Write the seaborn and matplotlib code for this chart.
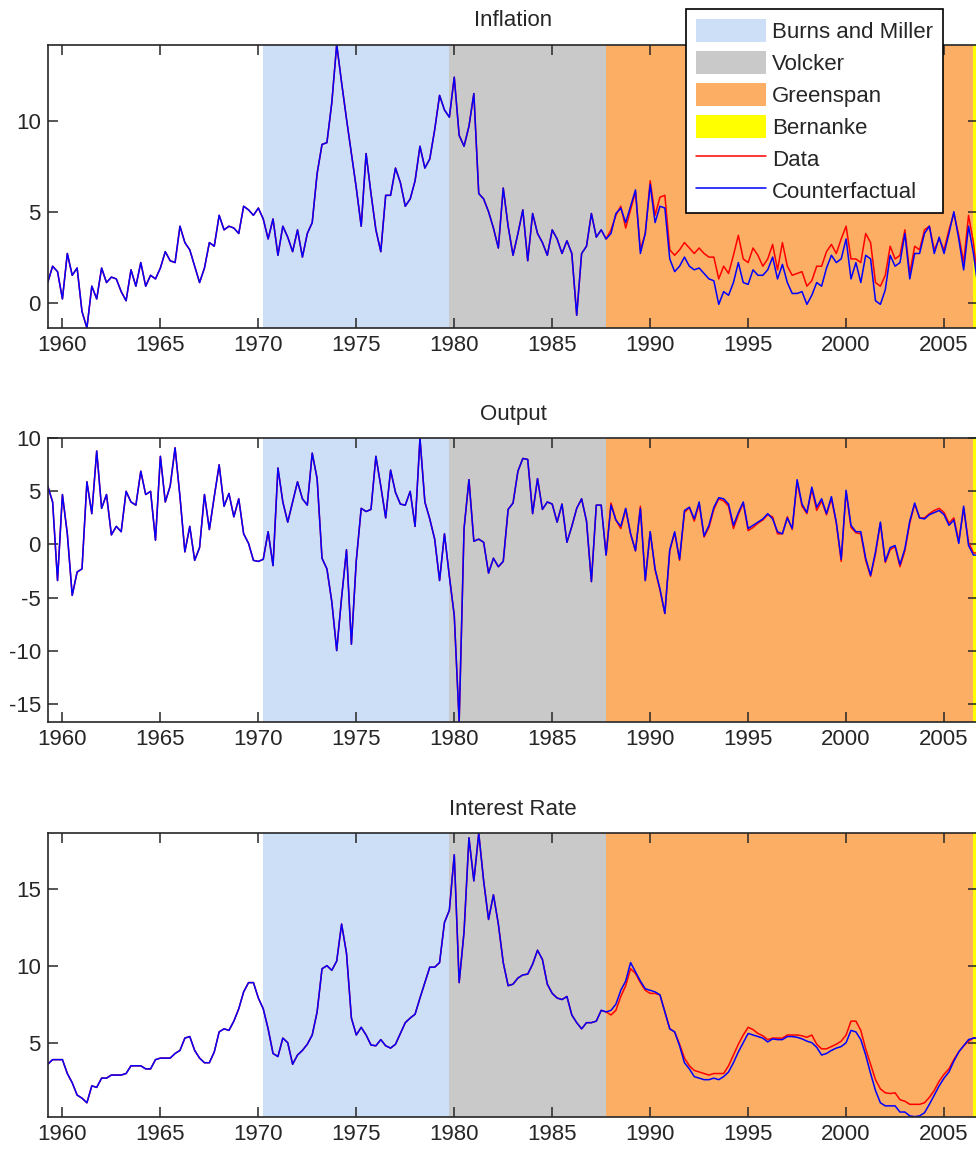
import numpy as np
import pandas as pd
import seaborn as sns
import matplotlib.pyplot as plt
from matplotlib.patches import Patch
from matplotlib.lines import Line2D
from matplotlib.ticker import MultipleLocator

# quarterly observations in decimal years
start_year = 1959.25
n_quarters = 191
x_range = (1959.25, 2006.75)

# Fed chairmen periods
era_names = ['Burns and Miller', 'Volcker', 'Greenspan', 'Bernanke']
era_starts = [1970.25, 1979.75, 1987.75, 2006.5]
era_ends = [1979.75, 1987.75, 2006.5, 2007.0]
era_colors = ['#CCDFF6', '#C9C9C9', '#FCAE65', '#FFFF00']

# data and counterfactual coincide until Greenspan takes over (1987Q3)
infl_common = [
    1.1, 2.0, 1.7, 0.2, 2.7, 1.5, 1.9, -0.5, -1.4, 0.9,
    0.2, 1.9, 1.1, 1.4, 1.3, 0.6, 0.1, 1.8, 0.9, 2.2,
    0.9, 1.5, 1.3, 1.9, 2.8, 2.3, 2.2, 4.2, 3.3, 2.9,
    2.0, 1.1, 1.9, 3.3, 3.1, 4.8, 4.0, 4.2, 4.1, 3.8,
    5.3, 5.1, 4.8, 5.2, 4.6, 3.5, 4.6, 2.6, 4.2, 3.6,
    2.8, 4.0, 2.5, 3.8, 4.4, 7.1, 8.7, 8.8, 11.0, 14.2,
    12.1, 10.1, 8.2, 6.3, 4.2, 8.2, 6.0, 4.0, 2.8, 5.9,
    5.9, 7.4, 6.6, 5.3, 5.7, 6.7, 8.6, 7.4, 7.9, 9.5,
    11.4, 10.6, 10.2, 12.4, 9.2, 8.6, 9.7, 11.5, 6.0, 5.7,
    5.0, 4.1, 3.0, 6.3, 4.2, 2.6, 3.8, 5.1, 2.3, 4.9,
    3.8, 3.3, 2.6, 4.0, 3.5, 2.7, 3.4, 2.7, -0.7, 2.7,
    3.1, 4.9, 3.6, 4.0, 3.5]
infl_data_gs = [
    4.0, 4.8, 5.3, 4.1, 5.1, 6.1, 2.9, 3.8, 6.7, 4.8,
    5.8, 5.9, 2.9, 2.6, 2.9, 3.3, 3.0, 2.7, 3.0, 2.7,
    2.5, 2.5, 1.3, 2.0, 1.6, 2.6, 3.7, 2.4, 2.2, 3.0,
    2.6, 2.0, 2.4, 3.2, 1.8, 3.3, 2.0, 1.5, 1.6, 1.7,
    0.9, 1.2, 2.0, 2.0, 2.8, 3.2, 2.7, 3.5, 4.2, 2.4,
    2.4, 2.2, 3.8, 3.3, 1.1, 0.9, 1.5, 3.1, 2.4, 2.6,
    4.0, 1.6, 3.1, 2.9, 4.0, 4.2, 2.9, 3.5, 2.9, 4.0,
    4.9, 3.7, 2.2, 4.8, 3.3, 0.9]
infl_cf_gs = [
    3.8, 4.9, 5.2, 4.4, 5.3, 6.2, 2.7, 3.8, 6.5, 4.4,
    5.3, 5.2, 2.4, 1.7, 2.0, 2.5, 2.0, 1.8, 1.9, 1.6,
    1.3, 1.2, -0.1, 0.6, 0.4, 1.1, 2.2, 1.1, 1.0, 1.8,
    1.5, 1.5, 1.8, 2.5, 1.3, 2.1, 1.1, 0.5, 0.5, 0.6,
    -0.1, 0.4, 1.1, 0.9, 1.9, 2.6, 2.2, 2.4, 3.5, 1.3,
    2.2, 1.1, 2.6, 2.4, 0.1, -0.1, 0.7, 2.6, 2.0, 2.2,
    3.8, 1.3, 2.7, 2.7, 3.8, 4.2, 2.7, 3.6, 2.7, 3.8,
    5.0, 3.5, 1.8, 4.2, 2.7, 0.7]

output_common = [
    5.5, 4.0, -3.4, 4.7, 1.0, -4.8, -2.6, -2.3, 5.9, 2.9,
    8.8, 3.4, 4.7, 0.9, 1.7, 1.2, 5.0, 4.0, 3.7, 6.9,
    4.7, 5.0, 0.4, 8.3, 4.0, 5.5, 9.1, 4.5, -0.7, 1.7,
    -1.5, -0.3, 4.7, 1.4, 4.5, 7.5, 3.6, 4.8, 2.6, 4.3,
    1.0, 0.1, -1.5, -1.6, -1.4, 1.2, -2.0, 7.2, 4.0, 2.1,
    4.0, 5.9, 4.3, 3.7, 8.6, 6.2, -1.3, -2.3, -5.4, -10.0,
    -5.0, -0.5, -9.4, -1.5, 3.4, 3.1, 3.3, 8.3, 5.5, 2.5,
    7.0, 4.9, 3.8, 3.7, 5.0, 1.7, 10.0, 4.0, 2.4, 0.5,
    -3.4, 1.0, -3.0, -6.7, -16.7, 1.5, 6.1, 0.3, 0.5, 0.2,
    -2.7, -1.3, -2.1, -1.6, 3.3, 3.9, 6.9, 8.1, 8.0, 2.9,
    6.2, 3.3, 4.0, 3.8, 2.1, 3.8, 0.2, 1.7, 3.4, 4.3,
    2.2, -3.5, 3.7, 3.7, -1.0]
output_data_gs = [
    3.9, 2.3, 1.5, 3.3, 1.0, -0.6, 3.6, -3.4, 1.2, -2.4,
    -4.3, -6.5, -0.6, 1.1, -1.5, 3.0, 3.5, 2.2, 3.8, 0.7,
    1.6, 3.3, 4.3, 4.1, 3.6, 1.5, 2.8, 3.9, 1.3, 1.6,
    2.0, 2.3, 2.8, 2.6, 1.0, 1.0, 2.6, 1.4, 5.9, 3.6,
    2.9, 5.2, 3.2, 4.1, 2.8, 4.3, 2.0, -1.6, 5.0, 1.6,
    1.1, 1.0, -1.5, -3.0, -0.9, 2.0, -1.7, -0.5, -0.2, -2.1,
    -0.6, 2.0, 3.8, 2.5, 2.5, 2.9, 3.2, 3.4, 3.0, 2.0,
    2.5, 0.3, 3.4, 0.2, -0.8, -0.8]
output_cf_gs = [
    3.7, 2.3, 1.7, 3.4, 1.0, -0.6, 3.4, -3.4, 1.2, -2.3,
    -4.2, -6.5, -0.5, 1.2, -1.4, 3.2, 3.5, 2.4, 4.0, 0.8,
    1.8, 3.5, 4.4, 4.3, 3.8, 1.8, 3.0, 4.0, 1.5, 1.8,
    2.1, 2.4, 2.9, 2.4, 1.2, 1.0, 2.5, 1.5, 6.1, 3.8,
    3.0, 5.4, 3.5, 4.3, 2.9, 4.5, 2.1, -1.4, 5.1, 1.8,
    1.2, 1.2, -1.3, -2.9, -0.7, 2.1, -1.6, -0.3, -0.1, -1.9,
    -0.4, 2.2, 3.9, 2.5, 2.4, 2.8, 3.0, 3.2, 2.8, 1.8,
    2.3, 0.1, 3.6, -0.1, -1.0, -1.0]

rate_common = [
    3.6, 3.9, 3.9, 3.9, 3.0, 2.4, 1.6, 1.4, 1.1, 2.2,
    2.1, 2.7, 2.7, 2.9, 2.9, 2.9, 3.0, 3.5, 3.5, 3.5,
    3.3, 3.3, 3.9, 4.0, 4.0, 4.0, 4.3, 4.5, 5.3, 5.4,
    4.5, 4.0, 3.7, 3.7, 4.4, 5.7, 5.9, 5.8, 6.4, 7.2,
    8.3, 8.9, 8.9, 7.9, 7.2, 5.9, 4.3, 4.1, 5.3, 5.0,
    3.6, 4.2, 4.5, 4.9, 5.5, 7.0, 9.8, 10.0, 9.7, 10.3,
    12.7, 10.8, 6.6, 5.5, 6.0, 5.5, 4.85, 4.8, 5.2, 4.8,
    4.65, 4.9, 5.6, 6.3, 6.6, 6.85, 7.9, 8.9, 9.9, 9.9,
    10.2, 12.8, 13.6, 17.2, 8.9, 12.2, 18.3, 15.5, 18.6, 15.5,
    13.0, 14.6, 12.7, 10.2, 8.7, 8.8, 9.2, 9.4, 9.45, 10.1,
    11.0, 10.4, 8.8, 8.2, 7.9, 7.8, 8.0, 6.8, 6.3, 5.9,
    6.3, 6.3, 6.4, 7.1, 7.0]
rate_data_gs = [
    6.8, 7.1, 8.0, 8.7, 9.8, 9.5, 8.9, 8.4, 8.2, 8.2,
    8.1, 7.0, 5.9, 5.7, 4.9, 4.0, 3.5, 3.2, 3.1, 3.0,
    2.9, 3.0, 3.0, 3.0, 3.5, 4.2, 4.9, 5.5, 6.0, 5.85,
    5.6, 5.45, 5.2, 5.3, 5.3, 5.3, 5.5, 5.5, 5.5, 5.45,
    5.35, 5.5, 4.9, 4.6, 4.6, 4.75, 4.9, 5.1, 5.5, 6.4,
    6.4, 5.8, 4.6, 3.6, 2.6, 2.0, 1.75, 1.7, 1.75, 1.3,
    1.2, 1.0, 1.0, 1.0, 1.1, 1.45, 1.9, 2.5, 2.95, 3.3,
    3.9, 4.4, 4.8, 5.1, 5.3, 5.3]
rate_cf_gs = [
    7.1, 7.5, 8.4, 9.0, 10.2, 9.6, 9.0, 8.5, 8.4, 8.3,
    8.1, 7.0, 5.9, 5.7, 4.8, 3.7, 3.3, 2.8, 2.7, 2.6,
    2.6, 2.7, 2.6, 2.8, 3.1, 3.7, 4.4, 5.0, 5.6, 5.5,
    5.4, 5.3, 5.05, 5.25, 5.2, 5.2, 5.4, 5.4, 5.35, 5.25,
    5.1, 5.0, 4.7, 4.2, 4.3, 4.5, 4.65, 4.75, 5.0, 5.8,
    5.7, 5.2, 4.2, 3.0, 1.9, 1.1, 0.9, 0.9, 0.9, 0.5,
    0.5, 0.25, 0.2, 0.25, 0.45, 1.0, 1.6, 2.2, 2.7, 3.1,
    3.8, 4.4, 4.8, 5.2, 5.3, 5.3]

panel_titles = ['Inflation', 'Output', 'Interest Rate']
year_ticks = list(range(1960, 2006, 5))

dates = start_year + 0.25 * np.arange(n_quarters)
df = pd.DataFrame({
    'date': dates,
    'infl_data': infl_common + infl_data_gs,
    'infl_cf': infl_common + infl_cf_gs,
    'output_data': output_common + output_data_gs,
    'output_cf': output_common + output_cf_gs,
    'rate_data': rate_common + rate_data_gs,
    'rate_cf': rate_common + rate_cf_gs,
})

sns.set_theme(style='white')
plt.rcParams['font.family'] = ['Liberation Sans', 'DejaVu Sans']
plt.rcParams['axes.edgecolor'] = '#262626'
plt.rcParams['text.color'] = '#262626'
plt.rcParams['axes.unicode_minus'] = False

fig = plt.figure(figsize=(9.76, 11.5), dpi=100)
bottoms = [0.7148, 0.3724, 0.0290]
series = [('infl_data', 'infl_cf'), ('output_data', 'output_cf'), ('rate_data', 'rate_cf')]

for bottom, title, (col_d, col_cf) in zip(bottoms, panel_titles, series):
    ax = fig.add_axes([0.0489, bottom, 0.9535, 0.2465])
    for s, e, c in zip(era_starts, era_ends, era_colors):
        ax.axvspan(s, e, color=c, lw=0, zorder=0)
    sns.lineplot(data=df, x='date', y=col_d, ax=ax, color='#FF0000', lw=1.1,
                 estimator=None, sort=False)
    sns.lineplot(data=df, x='date', y=col_cf, ax=ax, color='#0000FF', lw=1.1,
                 estimator=None, sort=False)

    # tight limits like the original figure
    lo = min(df[col_d].min(), df[col_cf].min())
    hi = max(df[col_d].max(), df[col_cf].max())
    ax.set_xlim(*x_range)
    ax.set_ylim(lo, hi)
    ax.set_xticks(year_ticks)
    ax.yaxis.set_major_locator(MultipleLocator(5))
    ax.set_xlabel('')
    ax.set_ylabel('')
    ax.set_title(title, fontsize=16, pad=13)
    ax.tick_params(axis='both', which='major', direction='in', length=7, width=1.1,
                   labelsize=16, colors='#262626', top=True, bottom=True,
                   left=True, right=True, pad=5)
    for sp in ax.spines.values():
        sp.set_linewidth(1.2)
        sp.set_zorder(3)

handles = [Patch(facecolor=c, edgecolor='none') for c in era_colors]
handles += [Line2D([], [], color='#FF0000', lw=1.1), Line2D([], [], color='#0000FF', lw=1.1)]
labels = era_names + ['Data', 'Counterfactual']
leg = fig.legend(handles, labels, loc='upper right',
                 bbox_to_anchor=(943.3 / 976, 1 - 9.3 / 1150),
                 frameon=True, fancybox=False, framealpha=1, edgecolor='black',
                 fontsize=16, handlelength=3.15, handleheight=1.2,
                 labelspacing=0.36, handletextpad=0.3, borderpad=0.45,
                 borderaxespad=0)
leg.get_frame().set_linewidth(1.2)

plt.savefig('out.png', dpi=100)
